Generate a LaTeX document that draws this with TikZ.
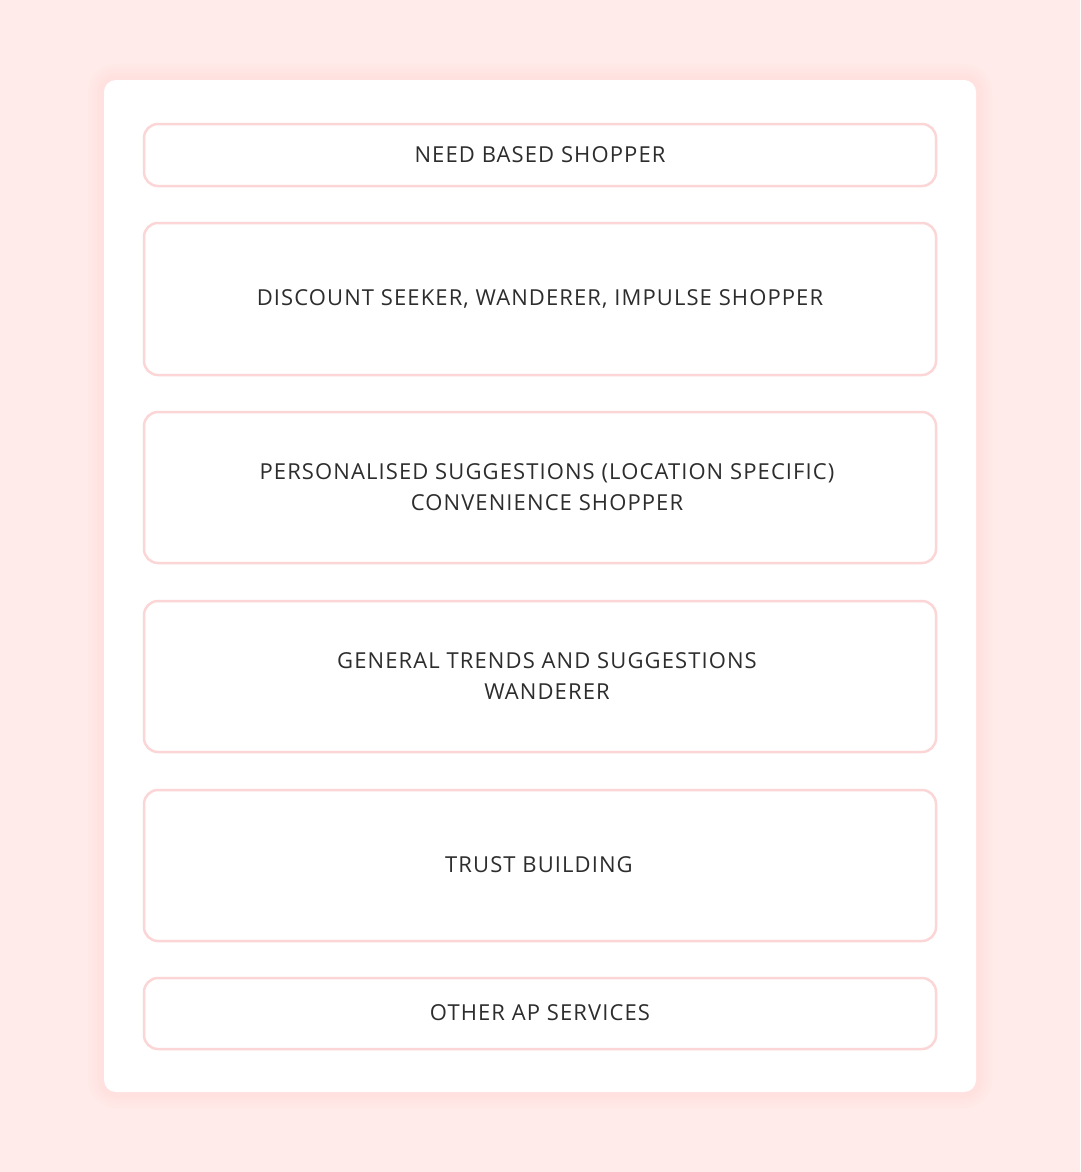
\documentclass[tikz,border=0pt]{standalone}
\usepackage{fontspec}
\setmainfont{Open Sans}[LetterSpace=5]
\usetikzlibrary{positioning}
\definecolor{bgpink}{RGB}{255,235,233}
\definecolor{glow}{RGB}{255,224,222}
\definecolor{boxline}{RGB}{252,214,214}
\definecolor{txt}{RGB}{45,45,45}
\begin{document}
\begin{tikzpicture}[x=1pt,y=-1pt,
  card/.style={fill=white,rounded corners=12pt},
  tbox/.style={draw=boxline,line width=2.5pt,rounded corners=14pt,fill=white},
  lbl/.style={text=txt,font=\fontsize{22}{31}\selectfont,align=center,inner sep=0pt}]
\fill[bgpink] (0,0) rectangle (1080,1172);
\useasboundingbox (0,0) rectangle (1080,1172);
% soft glow around card
\foreach \i/\o in {16/0.10,13/0.14,10/0.18,7/0.24,4/0.3,2/0.4}{
  \fill[glow,opacity=\o,rounded corners=12pt+\i pt] (104-\i,80-\i) rectangle (976+\i,1092+\i);
}
\fill[card] (104,80) rectangle (976,1092);
\draw[tbox] (144,124) rectangle (936,186);
\draw[tbox] (144,223) rectangle (936,375);
\draw[tbox] (144,412) rectangle (936,563);
\draw[tbox] (144,601) rectangle (936,752);
\draw[tbox] (144,790) rectangle (936,941);
\draw[tbox] (144,978) rectangle (936,1049);
\node[lbl] (t1) at (540,155) {NEED BASED SHOPPER};
\node[lbl] (t2) at (540,299) {DISCOUNT SEEKER, WANDERER, IMPULSE SHOPPER};
\node[lbl] (t3) at (547,487) {PERSONALISED SUGGESTIONS (LOCATION SPECIFIC)\\CONVENIENCE SHOPPER};
\node[lbl] (t4) at (547,676) {GENERAL TRENDS AND SUGGESTIONS\\WANDERER};
\node[lbl] (t5) at (539,865) {TRUST BUILDING};
\node[lbl] (t6) at (540,1013) {OTHER AP SERVICES};
\end{tikzpicture}
\end{document}
